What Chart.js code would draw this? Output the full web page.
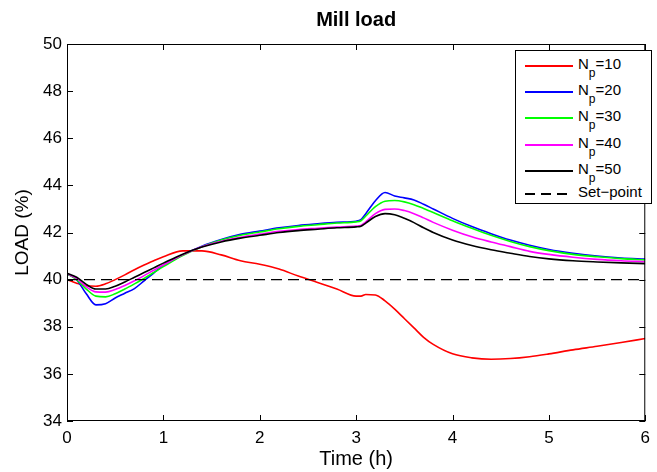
<!DOCTYPE html>
<html>
<head>
<meta charset="utf-8">
<script src="https://cdn.jsdelivr.net/npm/chart.js@4"></script>
<style>
  body { margin: 0; background: #fff; }
  #wrap { position: relative; width: 657px; height: 472px; font-family: "Liberation Sans", Arial, sans-serif; }
  #chart { position: absolute; left: 0; top: 0; }
  #legend { position: absolute; left: 515px; top: 50px; width: 135px; height: 152px; border: 1px solid #000; background: #fff; }
  .row { position: absolute; left: 0; width: 135px; height: 1px; }
  .sample { position: absolute; left: 9px; width: 48px; top: -1px; height: 1.5px; background: #000; }
  .dash { background: repeating-linear-gradient(90deg, #000 0 10px, transparent 10px 16px); }
  .lbl { position: absolute; left: 62px; top: -10px; font-size: 15px; line-height: 15px; white-space: nowrap; color: #000; }
  .lbl .s { position: relative; top: 8px; font-size: 12px; }
</style>
</head>
<body>
<div id="wrap">
  <canvas id="chart" width="657" height="472"></canvas>
  <div id="legend"></div>
</div>
<script>
// values
const times = [0, 0.1, 0.2, 0.3, 0.4, 0.5, 0.6, 0.7, 0.8, 0.9, 1.0, 1.2, 1.4, 1.6, 1.8, 2.0, 2.2, 2.4, 2.6, 2.8,
               3.0, 3.05, 3.1, 3.2, 3.3, 3.4, 3.5, 3.6, 3.7, 3.8, 4.0, 4.2, 4.4, 4.6, 4.8, 5.0, 5.25, 5.5, 5.75, 6.0];
const np10 = [40.0, 39.85, 39.74, 39.72, 39.82, 40.0, 40.2, 40.42, 40.62, 40.8, 40.97, 41.22, 41.22, 41.05, 40.8, 40.65, 40.45, 40.15, 39.88, 39.6,
              39.3, 39.3, 39.37, 39.35, 39.1, 38.75, 38.35, 37.95, 37.55, 37.25, 36.85, 36.68, 36.62, 36.65, 36.73, 36.85, 37.02, 37.17, 37.33, 37.5];
const np20 = [40.25, 40.0, 39.4, 38.93, 38.98, 39.22, 39.42, 39.62, 39.95, 40.28, 40.6, 41.05, 41.42, 41.7, 41.92, 42.06, 42.2, 42.3, 42.37, 42.43,
              42.48, 42.55, 42.8, 43.35, 43.7, 43.55, 43.47, 43.38, 43.2, 43.0, 42.6, 42.25, 41.95, 41.68, 41.46, 41.28, 41.12, 41.0, 40.92, 40.87];
const np30 = [40.25, 40.0, 39.6, 39.3, 39.27, 39.4, 39.6, 39.82, 40.05, 40.3, 40.55, 41.02, 41.4, 41.68, 41.88, 42.02, 42.16, 42.26, 42.33, 42.4,
              42.45, 42.5, 42.7, 43.1, 43.33, 43.36, 43.3, 43.18, 43.02, 42.85, 42.5, 42.18, 41.88, 41.62, 41.4, 41.23, 41.07, 40.97, 40.89, 40.84];
const np40 = [40.25, 40.05, 39.7, 39.48, 39.47, 39.58, 39.75, 39.95, 40.17, 40.4, 40.62, 41.05, 41.4, 41.63, 41.8, 41.93, 42.05, 42.13, 42.18, 42.23,
              42.27, 42.3, 42.45, 42.8, 42.98, 43.0, 42.93, 42.8, 42.62, 42.43, 42.1, 41.82, 41.6, 41.4, 41.2, 41.07, 40.95, 40.86, 40.8, 40.76];
const np50 = [40.27, 40.1, 39.8, 39.6, 39.6, 39.72, 39.9, 40.1, 40.3, 40.5, 40.7, 41.08, 41.38, 41.6, 41.76, 41.88, 42.0, 42.08, 42.14, 42.2,
              42.24, 42.27, 42.4, 42.68, 42.8, 42.75, 42.6, 42.42, 42.2, 42.0, 41.68, 41.45, 41.27, 41.12, 40.98, 40.88, 40.8, 40.75, 40.71, 40.68];
const setTimes = [0, 6];
const setPoint = [40, 40];

const FONT = "'Liberation Sans', Arial, sans-serif";
const pts = (xs, ys) => xs.map((x, i) => ({ x: x, y: ys[i] }));

const series = [
  { np: '10', data: np10, color: '#ff0000' },
  { np: '20', data: np20, color: '#0000ff' },
  { np: '30', data: np30, color: '#00ff00' },
  { np: '40', data: np40, color: '#ff00ff' },
  { np: '50', data: np50, color: '#000000' }
];

const datasets = series.map((s, i) => ({
  label: 'Np=' + s.np,
  data: pts(times, s.data),
  borderColor: s.color,
  borderWidth: 1.6,
  pointRadius: 0,
  cubicInterpolationMode: 'monotone',
  order: 10 - i
}));
datasets.push({
  label: 'Set-point',
  data: pts(setTimes, setPoint),
  borderColor: '#000',
  borderWidth: 1.4,
  borderDash: [11, 6],
  pointRadius: 0,
  order: 1
});

// MATLAB style box with inward ticks on all four sides
const boxTicks = {
  id: 'boxTicks',
  afterDraw(chart) {
    const { ctx, chartArea: a, scales: { x, y } } = chart;
    ctx.save();
    ctx.strokeStyle = '#000';
    ctx.lineWidth = 1;
    ctx.strokeRect(a.left + 0.5, a.top + 0.5, a.right - a.left - 1, a.bottom - a.top - 1);
    const len = 6;
    ctx.beginPath();
    x.ticks.forEach(t => {
      const px = Math.round(x.getPixelForValue(t.value)) + 0.5;
      ctx.moveTo(px, a.bottom); ctx.lineTo(px, a.bottom - len);
      ctx.moveTo(px, a.top); ctx.lineTo(px, a.top + len);
    });
    y.ticks.forEach(t => {
      const py = Math.round(y.getPixelForValue(t.value)) + 0.5;
      ctx.moveTo(a.left, py); ctx.lineTo(a.left + len, py);
      ctx.moveTo(a.right, py); ctx.lineTo(a.right - len, py);
    });
    ctx.stroke();
    ctx.restore();
  }
};

new Chart(document.getElementById('chart'), {
  type: 'line',
  data: { datasets: datasets },
  plugins: [boxTicks],
  options: {
    responsive: false,
    animation: false,
    layout: { padding: { top: 0, right: 2, left: 0, bottom: 0 } },
    plugins: {
      legend: { display: false },
      tooltip: { enabled: false },
      title: {
        display: true,
        text: 'Mill load',
        fullSize: false,
        color: '#000',
        font: { family: FONT, size: 20, weight: 'bold' },
        padding: { top: 8, bottom: 12 }
      }
    },
    scales: {
      x: {
        type: 'linear',
        min: 0, max: 6,
        afterFit(s) { s.height = 51; },
        grid: { display: false, drawTicks: false },
        border: { display: false },
        ticks: { stepSize: 1, color: '#000', padding: 7, font: { family: FONT, size: 17 } },
        title: { display: true, text: 'Time (h)', color: '#000', padding: { top: 0, bottom: 1 }, font: { family: FONT, size: 20 } }
      },
      y: {
        min: 34, max: 50,
        afterFit(s) { s.width = 67; },
        grid: { display: false, drawTicks: false },
        border: { display: false },
        ticks: { stepSize: 2, color: '#000', padding: 5, font: { family: FONT, size: 17 } },
        title: { display: true, text: 'LOAD (%)', color: '#000', padding: { top: 11, bottom: 0 }, font: { family: FONT, size: 19 } }
      }
    }
  }
});

// legend with subscripted labels
const legend = document.getElementById('legend');
const rowsY = [15, 41, 67, 94, 120, 143];
series.forEach((s, i) => {
  const row = document.createElement('div');
  row.className = 'row';
  row.style.top = rowsY[i] + 'px';
  row.innerHTML = '<span class="sample" style="background:' + s.color + '"></span>' +
    '<span class="lbl">N<span class="s">p</span>=' + s.np + '</span>';
  legend.appendChild(row);
});
const sp = document.createElement('div');
sp.className = 'row';
sp.style.top = rowsY[5] + 'px';
sp.innerHTML = '<span class="sample dash"></span><span class="lbl">Set\u2212point</span>';
legend.appendChild(sp);
</script>
</body>
</html>
